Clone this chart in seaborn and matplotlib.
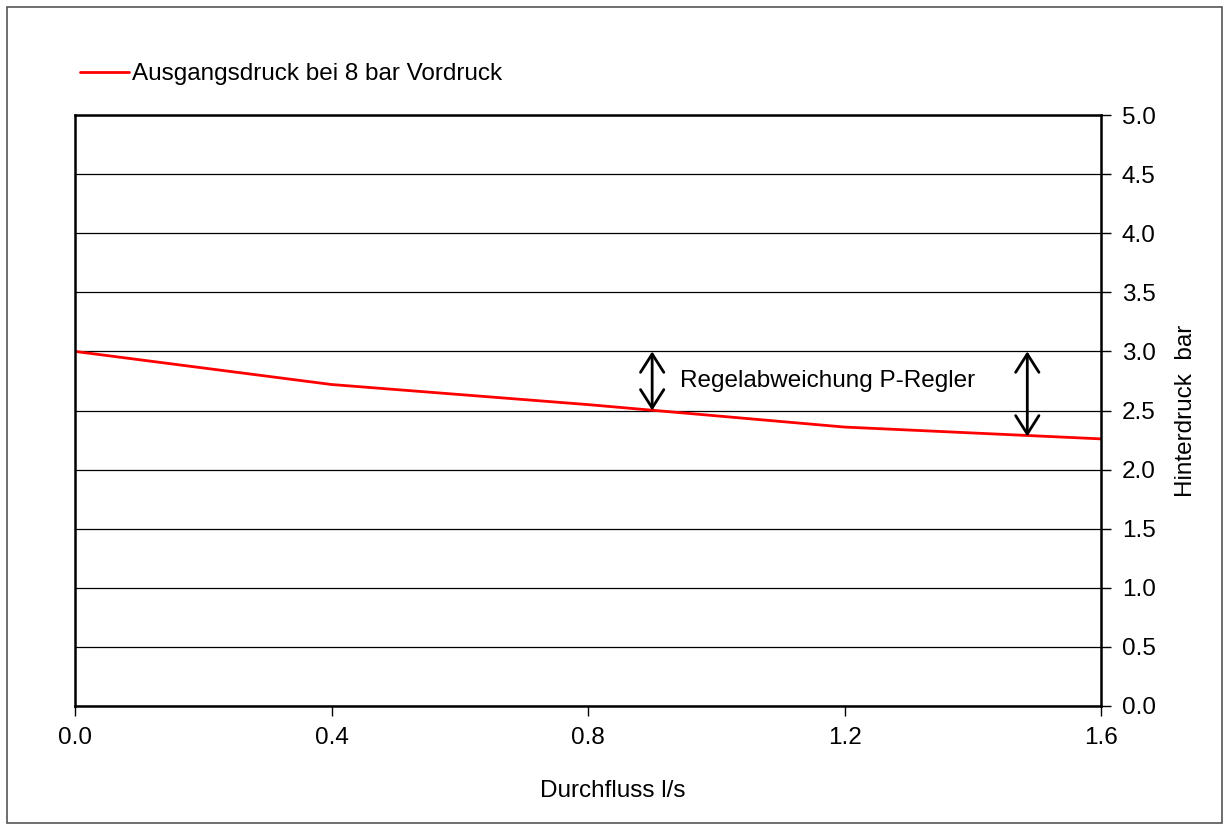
import numpy as np
import pandas as pd
import matplotlib
matplotlib.use("Agg")
import matplotlib.pyplot as plt
import seaborn as sns
from matplotlib.patches import Rectangle

# data
durchfluss = [0.0, 0.4, 0.8, 1.2, 1.6]
hinterdruck = [3.0, 2.72, 2.55, 2.36, 2.26]
x_ticks = [0.0, 0.4, 0.8, 1.2, 1.6]
y_ticks = [0.0, 0.5, 1.0, 1.5, 2.0, 2.5, 3.0, 3.5, 4.0, 4.5, 5.0]
serie_name = "Ausgangsdruck bei 8 bar Vordruck"
anno_text = "Regelabweichung P-Regler"
arrow_left = (0.9, 3.0, 2.5)
arrow_right = (1.485, 3.0, 2.28)

df = pd.DataFrame({"Durchfluss": durchfluss, "Hinterdruck": hinterdruck})

sns.set_style("white")
plt.rcParams['font.family'] = ['Liberation Sans', 'DejaVu Sans']
plt.rcParams['text.color'] = 'black'
plt.rcParams['xtick.color'] = 'black'
plt.rcParams['ytick.color'] = 'black'
plt.rcParams['axes.labelcolor'] = 'black'

fig = plt.figure(figsize=(12.32, 8.3), dpi=100)
ax = fig.add_axes([0.0609, 0.1494, 0.8328, 0.712])

sns.lineplot(data=df, x="Durchfluss", y="Hinterdruck", color="#ff0000", linewidth=2, ax=ax, label=serie_name)

ax.set_xlim(0, 1.6)
ax.set_ylim(0, 5)
ax.set_xticks(x_ticks)
ax.set_xticklabels([f"{v:.1f}" for v in x_ticks], fontsize=17.5)
ax.set_yticks(y_ticks)
ax.set_yticklabels([f"{v:.1f}" for v in y_ticks], fontsize=17.5)
ax.yaxis.tick_right()
ax.yaxis.set_label_position("right")
ax.tick_params(axis="both", direction="out", length=7, width=1, pad=8, left=False, right=True, bottom=True)
ax.grid(axis="y", color="black", linewidth=0.9)
ax.grid(axis="x", visible=False)
for s in ax.spines.values():
    s.set_color("black")
    s.set_linewidth(1.8)

ax.set_xlabel("Durchfluss l/s", fontsize=17.5)
ax.xaxis.set_label_coords(0.524, -0.125)
ax.set_ylabel("Hinterdruck  bar", fontsize=17.5, labelpad=14)

# arrows for the control deviation
for xa, y1, y2 in [arrow_left, arrow_right]:
    ax.annotate("", xy=(xa, y2), xytext=(xa, y1),
                arrowprops=dict(arrowstyle="<->,head_length=0.55,head_width=0.35", color="black",
                                lw=2, mutation_scale=24, shrinkA=0, shrinkB=0))
ax.text(0.943, 2.75, anno_text, fontsize=17.5, va="center", ha="left")

leg = ax.legend(loc="lower left", bbox_to_anchor=(-0.005, 1.034), frameon=False, fontsize=17.5,
                handlelength=2.05, handletextpad=0.1, borderaxespad=0)

# outer frame
fig.patches.append(Rectangle((0.006, 0.008), 0.986, 0.984, transform=fig.transFigure,
                             fill=False, edgecolor="#555555", linewidth=1.2))

fig.savefig("out.png", dpi=100)
